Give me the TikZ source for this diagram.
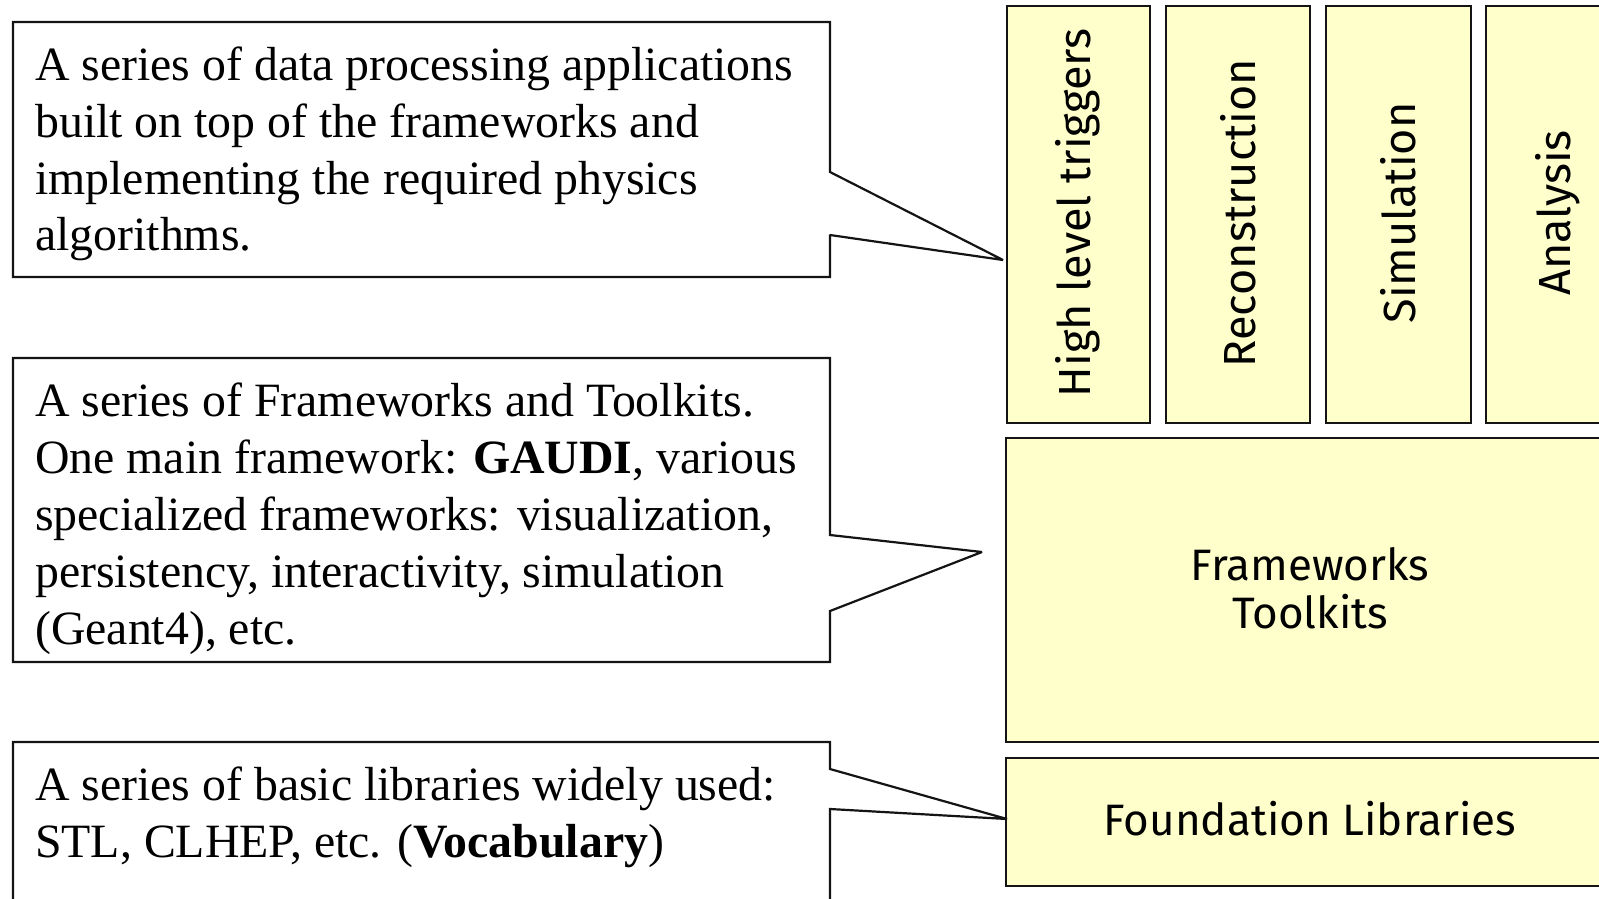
\documentclass[tikz,border=0pt]{standalone}
\usepackage{fontspec}
\setmainfont{Liberation Serif}
\newfontfamily\boxfont{Fira Sans}
\definecolor{paleyellow}{RGB}{255,255,204}
\definecolor{edge}{RGB}{20,20,20}
\begin{document}
\begin{tikzpicture}[x=1pt,y=-1pt,
  callout/.style={draw=edge,line width=2.2pt,fill=white,line join=miter,miter limit=1.5},
  layer/.style={draw=edge,line width=2.2pt,fill=paleyellow},
  line/.style={anchor=base west,inner sep=0pt,font=\fontsize{47.8}{56}\selectfont},
  label/.style={inner sep=0pt,font=\boxfont\fontsize{44}{48}\selectfont,align=center},
  vlabel/.style={inner sep=0pt,font=\boxfont\fontsize{45}{50}\selectfont,rotate=90}]
\useasboundingbox (0,0) rectangle (1599,898);
\clip (0,0) rectangle (1599,898);

% layered architecture, right side
\draw[layer] (1007,6) rectangle (1150,423);
\draw[layer] (1166,6) rectangle (1310,423);
\draw[layer] (1326,6) rectangle (1471,423);
\draw[layer] (1486,6) rectangle (1640,423);
\node[vlabel] (hlt) at (1078,213) {High level triggers};
\node[vlabel] (rec) at (1238,213) {Reconstruction};
\node[vlabel] (sim) at (1398,213) {Simulation};
\node[vlabel] (ana) at (1558,213) {Analysis};

\draw[layer] (1006,438) rectangle (1640,742);
\node[label] (fw) at (1310,588) {Frameworks\\Toolkits};

\draw[layer] (1006,758) rectangle (1640,886);
\node[label,anchor=base] (fl) at (1310,835) {Foundation Libraries};

% callouts, left side
\draw[callout] (13,22) -- (830,22) -- (830,172) -- (1003,260) -- (830,235)
  -- (830,277) -- (13,277) -- cycle;
\draw[callout] (13,358) -- (830,358) -- (830,535) -- (982,552) -- (830,611)
  -- (830,662) -- (13,662) -- cycle;
\draw[callout] (13,742) -- (830,742) -- (830,769) -- (1007,819) -- (830,809)
  -- (830,920) -- (13,920) -- cycle;

\node[line] (a1) at (35,80)  {A series of data processing applications};
\node[line] (a2) at (35,137) {built on top of the frameworks and};
\node[line] (a3) at (35,194) {implementing the required physics};
\node[line] (a4) at (35,250) {algorithms.};

\node[line] (b1) at (35,416) {A series of Frameworks and Toolkits.};
\node[line] (b2) at (35,473) {One main framework: \textbf{GAUDI}, various};
\node[line] (b3) at (35,530) {specialized frameworks: visualization,};
\node[line] (b4) at (35,587) {persistency, interactivity, simulation};
\node[line] (b5) at (35,644) {(Geant4), etc.};

\node[line] (c1) at (35,800) {A series of basic libraries widely used:};
\node[line] (c2) at (35,857) {STL, CLHEP, etc. (\textbf{Vocabulary})};
\end{tikzpicture}
\end{document}
